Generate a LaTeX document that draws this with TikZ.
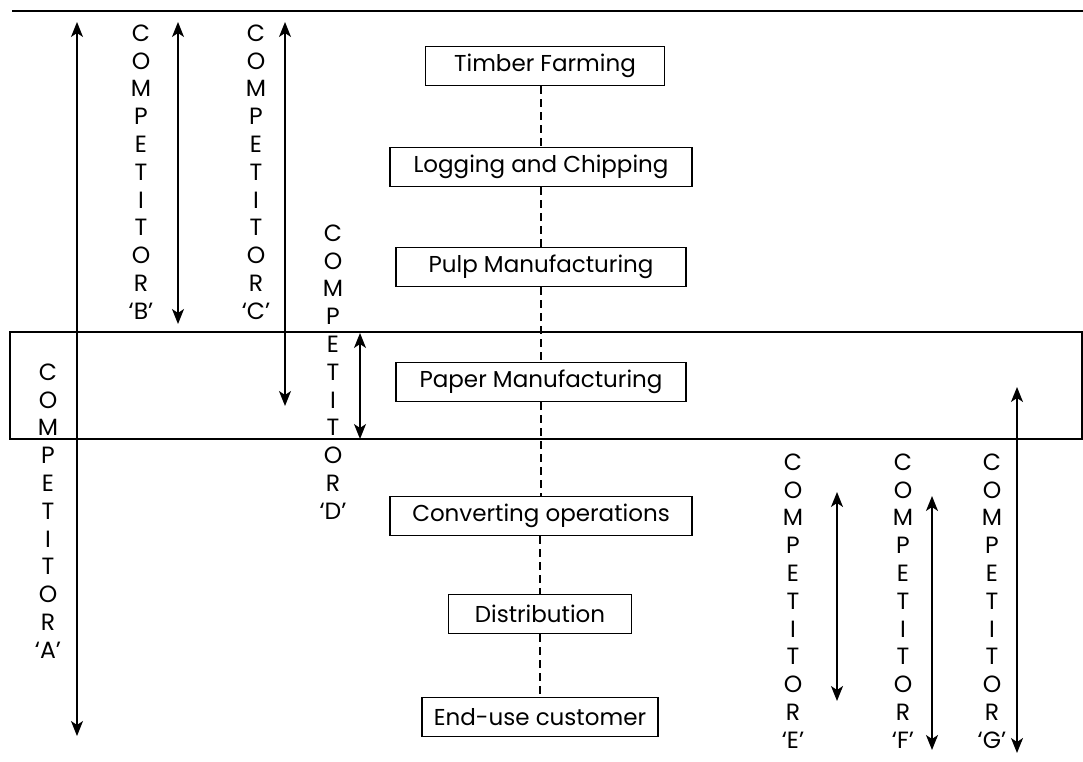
\documentclass[tikz,border=0pt]{standalone}
\usepackage{fontspec}
\setmainfont{Poppins}
\usetikzlibrary{arrows.meta,positioning}
\newcommand{\compstack}[1]{C\\O\\M\\P\\E\\T\\I\\T\\O\\R\\‘#1’}
\begin{document}
\begin{tikzpicture}[x=1pt,y=-1pt,
  stage/.style={draw,line width=1.9pt,minimum height=39pt,inner xsep=0pt,font=\fontsize{23}{27}\selectfont},
  compword/.style={align=center,inner sep=0pt,font=\fontsize{23.5}{27.8}\selectfont},
  link/.style={line width=2.2pt,dash pattern=on 8pt off 5pt},
  span/.style={line width=1.5pt,{Stealth[length=15pt,width=12pt,inset=4pt]}-{Stealth[length=15pt,width=12pt,inset=4pt]}}]
  \useasboundingbox (0,0) rectangle (1083,762);
  % frame lines
  \draw[line width=2.6pt] (12,11) -- (1083,11);
  \draw[line width=1.5pt] (10,332) rectangle (1082,439);
  % value chain stages
  \node[stage,minimum width=239pt] (timber) at (545,66) {Timber Farming};
  \node[stage,minimum width=302pt] (logging) at (541,167) {Logging and Chipping};
  \node[stage,minimum width=290pt] (pulp) at (541,267) {Pulp Manufacturing};
  \node[stage,minimum width=290pt] (paper) at (541,382) {Paper Manufacturing};
  \node[stage,minimum width=302pt] (convert) at (541,516) {Converting operations};
  \node[stage,minimum width=183pt] (distrib) at (540,614) {Distribution};
  \node[stage,minimum width=236pt] (enduse) at (540,717) {End-use customer};
  \draw[link] (logging.north |- timber.south) -- (logging.north);
  \draw[link] (logging) -- (pulp);
  \draw[link] (pulp) -- (paper);
  \draw[link] (paper) -- (convert);
  \draw[link] (convert.south -| distrib) -- (distrib);
  \draw[link] (distrib) -- (enduse);
  % competitors
  \node[compword] (labA) at (48,511) {\compstack{A}};
  \node[compword] (labB) at (141,172) {\compstack{B}};
  \node[compword] (labC) at (256,172) {\compstack{C}};
  \node[compword] (labD) at (333,372) {\compstack{D}};
  \node[compword] (labE) at (793,601) {\compstack{E}};
  \node[compword] (labF) at (903,601) {\compstack{F}};
  \node[compword] (labG) at (992,601) {\compstack{G}};
  \foreach \n/\x/\ya/\yb in {A/77/22/736,B/178/22/324,C/285/22/406,D/360/333/439,
                             E/837/492/701,F/932/496/750,G/1017/387/753} {
    \coordinate (top\n) at (\x,\ya);
    \coordinate (bot\n) at (\x,\yb);
    \draw[span] (top\n) -- (bot\n);
  }
\end{tikzpicture}
\end{document}
